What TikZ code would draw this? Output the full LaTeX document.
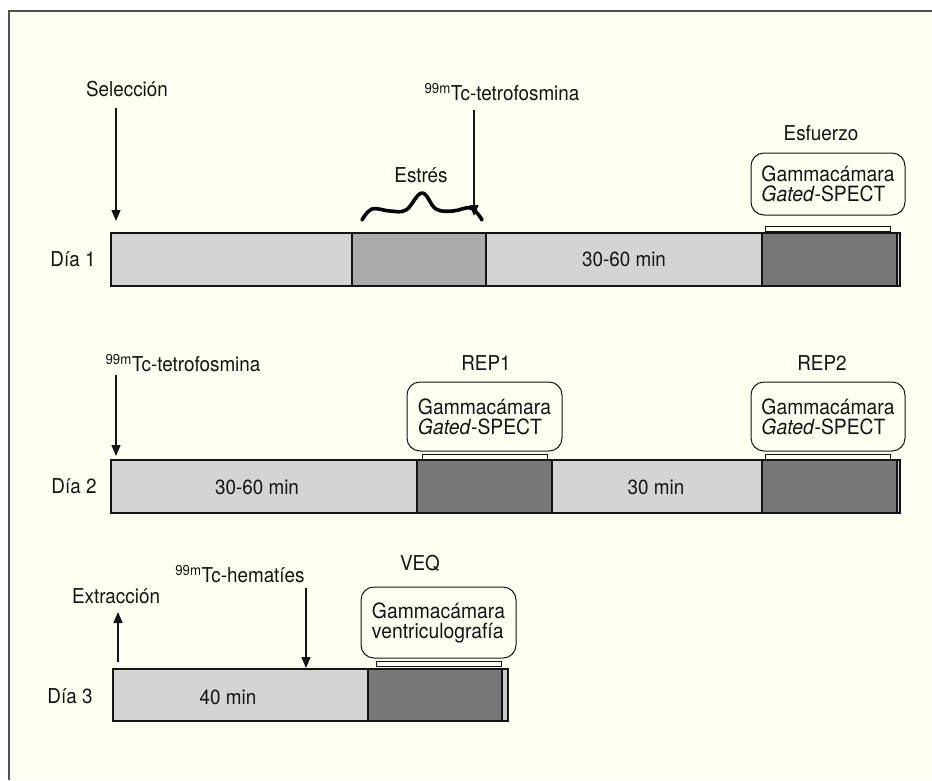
\documentclass[tikz,border=0pt]{standalone}
\usepackage{fontspec}
\setmainfont{TeX Gyre Heros}[FakeStretch=0.92]
\usetikzlibrary{arrows.meta}
\definecolor{cream}{RGB}{255,255,242}
\definecolor{framegray}{RGB}{80,80,80}
\definecolor{lightg}{RGB}{212,212,212}
\definecolor{midg}{RGB}{171,171,171}
\definecolor{darkg}{RGB}{119,119,119}
\definecolor{stripg}{RGB}{200,200,200}
\definecolor{ink}{RGB}{20,20,20}
\begin{document}
\begin{tikzpicture}[x=1pt,y=-1pt,
  every node/.style={font=\fontsize{20.5}{19.5}\selectfont, inner sep=0pt, outer sep=0pt, text=ink},
  seg/.style={draw=ink, line width=1.3pt, minimum height=53pt, anchor=north west},
  cam/.style={draw=ink, rounded corners=13pt, fill=cream, line width=1pt, minimum width=154pt, align=left, font=\fontsize{21}{20}\selectfont},
  stand/.style={draw=ink, fill=cream, line width=0.9pt, minimum height=5pt},
  arr/.style={draw=ink, line width=1.3pt, -{Triangle[width=9pt,length=11pt]}},
  squig/.style={draw=black, line width=3.6pt, line cap=round, line join=round}]
\useasboundingbox (0,0) rectangle (932,780);
\fill[white] (0,0) rectangle (932,780);
\fill[cream] (9,11) rectangle (932,780);
\draw[framegray, line width=2.6pt] (9,780) -- (9,11) -- (932,11);

% ---------- Day 1 ----------
\node (sel) at (127,89) {Selección};
\node (tc1) at (502,92) {\textsuperscript{99m}Tc-tetrofosmina};
\node (estres) at (421,175) {Estrés};
\node (esf) at (821,133) {Esfuerzo};
\node (dia1) at (73,259) {Día 1};
\node[seg, fill=lightg, minimum width=241pt] (d1a) at (111,233) {};
\node[seg, fill=midg, minimum width=134pt] (d1b) at (352,233) {};
\node[seg, fill=lightg, minimum width=276pt] (d1c) at (486,233) {30-60 min};
\node[seg, fill=stripg, minimum width=138pt] (d1s) at (762,233) {};
\node[seg, fill=darkg, minimum width=135pt] (d1d) at (762,233) {};
\node[cam, minimum height=62pt] (cam1) at (828,184) {Gammacámara\\\textit{Gated}-SPECT};
\node[stand, minimum width=125pt] (st1) at (827.5,228.5) {};
\coordinate (s1a) at (116,108);
\coordinate (s1b) at (116,221);
\draw[arr] (s1a) -- (s1b);
\coordinate (t1a) at (474,110);
\coordinate (t1b) at (474,216);
\draw[arr] (t1a) -- (t1b);
\draw[squig] plot[smooth, tension=0.65] coordinates {(362,220) (372,209) (390,211) (406,210) (422,193) (436,209) (453,211) (471,208) (482,220)};

% ---------- Day 2 ----------
\node (tc2) at (183,363) {\textsuperscript{99m}Tc-tetrofosmina};
\node (rep1) at (486,363) {REP1};
\node (rep2) at (822,363) {REP2};
\node (dia2) at (74,486) {Día 2};
\node[seg, fill=lightg, minimum width=306pt] (d2a) at (111,460) {};
\node (t2a) at (257,487) {30-60 min};
\node[seg, fill=darkg, minimum width=135pt] (d2b) at (417,460) {};
\node[seg, fill=lightg, minimum width=210pt] (d2c) at (552,460) {};
\node (t2c) at (656,487) {30 min};
\node[seg, fill=stripg, minimum width=138pt] (d2s) at (762,460) {};
\node[seg, fill=darkg, minimum width=135pt] (d2d) at (762,460) {};
\node[cam, minimum width=155pt, minimum height=69pt] (cam2) at (484.5,416.5) {Gammacámara\\\textit{Gated}-SPECT};
\node[stand, minimum width=125pt] (st2) at (484.5,456.5) {};
\node[cam, minimum height=69pt] (cam3) at (828,416.5) {Gammacámara\\\textit{Gated}-SPECT};
\node[stand, minimum width=125pt] (st3) at (827.5,456.5) {};
\coordinate (s2a) at (116,375);
\coordinate (s2b) at (116,456);
\draw[arr] (s2a) -- (s2b);

% ---------- Day 3 ----------
\node (ext) at (116,596) {Extracción};
\node (tc3) at (240,574) {\textsuperscript{99m}Tc-hematíes};
\node (veq) at (420,563) {VEQ};
\node (dia3) at (70,696) {Día 3};
\node[seg, fill=lightg, minimum width=255pt, minimum height=52pt] (d3a) at (113,669) {};
\node (t3a) at (228,697) {40 min};
\node[seg, fill=stripg, minimum width=140pt, minimum height=52pt] (d3s) at (368,669) {};
\node[seg, fill=darkg, minimum width=134pt, minimum height=52pt] (d3b) at (368,669) {};
\node[cam, minimum width=155pt, minimum height=71pt] (cam4) at (438.5,622.5) {Gammacámara\\ventriculografía};
\node[stand, minimum width=125pt] (st4) at (438.5,663.5) {};
\coordinate (e3a) at (118,662);
\coordinate (e3b) at (118,612);
\draw[arr] (e3a) -- (e3b);
\coordinate (h3a) at (306,588);
\coordinate (h3b) at (306,668);
\draw[arr] (h3a) -- (h3b);
\end{tikzpicture}
\end{document}
